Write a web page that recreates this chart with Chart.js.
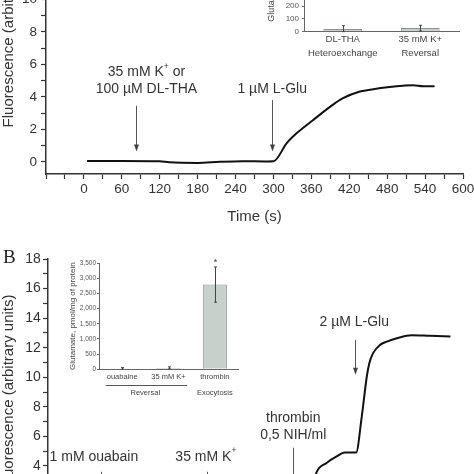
<!DOCTYPE html>
<html lang="en">
<head>
<meta charset="UTF-8">
<title>Glutamate release – fluorescence traces</title>
<script src="https://cdn.jsdelivr.net/npm/chart.js@4"></script>
<style>
html,body{margin:0;padding:0;background:#fff}
#fig{position:relative;width:474px;height:474px;overflow:hidden;background:#fff}
#fig canvas{position:absolute}
#lblB{position:absolute;left:3px;top:247px;font:19px/19px "Liberation Serif","Times New Roman",serif;color:#222}
</style>
</head>
<body>
<div id="fig">
  <canvas id="mainA" width="500" height="376" style="left:0;top:-150px;width:500px;height:376px"></canvas>
  <canvas id="mainB" width="500" height="377" style="left:0;top:200px;width:500px;height:377px"></canvas>
  <canvas id="insetA" width="224" height="212" style="left:250px;top:-150px;width:224px;height:212px"></canvas>
  <canvas id="insetB" width="200" height="170" style="left:50px;top:240px;width:200px;height:170px"></canvas>
  <div id="lblB">B</div>
</div>

<script>
// ---- data ----
// panel A trace (time s, fluorescence a.u.)
const TIME_A  = [5, 60, 120, 135, 180, 215, 250, 290, 300, 321, 337, 363, 390, 410, 437, 458, 484, 505, 521, 537, 555];
const FLUOR_A = [0.05, 0.05, 0.03, -0.03, -0.07, 0.0, 0.04, 0.02, 0.03, 1.15, 1.77, 2.58, 3.4, 3.92, 4.33, 4.47, 4.6, 4.68, 4.72, 4.66, 4.66];
// panel B trace
const TIME_B  = [0, 100, 200, 300, 350, 361, 367, 383, 399, 412, 430, 439, 447, 451, 457, 468, 479, 495, 518, 547, 580];
const FLUOR_B = [1.1, 1.1, 1.2, 1.2, 1.4, 2.6, 3.56, 4.2, 4.64, 4.91, 4.91, 7.34, 10.05, 10.95, 11.63, 12.19, 12.41, 12.64, 12.84, 12.8, 12.75];

// insets: glutamate, pmol/mg of protein
const CATS_A = ['DL-THA', '35 mM K+'];
const GLU_A  = [22, 28];
const ERR_A  = [25, 22];
const GROUPS_A = [{label:'Heteroexchange', from:0, to:0}, {label:'Reversal', from:1, to:1}];

const CATS_B = ['ouabaine', '35 mM K+', 'thrombin'];
const GLU_B  = [30, 45, 2790];
const ERR_B  = [25, 35, 580];
const STARS_B = ['', '', '*'];
const GROUPS_B = [{label:'Reversal', from:0, to:1}, {label:'Exocytosis', from:2, to:2}];

// additions marked on the traces: text lines at (t, value), arrow at arrowT from -> to
const NOTES_A = [
  {t:99,  lines:[['35 mM K^+ or', 5.5], ['100 µM DL-THA', 4.47]], arrowT:82,  from:3.45, to:0.63},
  {t:298, lines:[['1 µM L-Glu', 4.47]], arrowT:298, from:3.8, to:0.63}
];
const NOTES_B = [
  {t:13,  lines:[['1 mM ouabain', 4.62]], arrowT:25, from:3.6, to:1.5},
  {t:191, lines:[['35 mM K^+', 4.62]], arrowT:193, from:3.6, to:1.5},
  {t:330, lines:[['thrombin', 7.26], ['0,5 NIH/ml', 6.11]], arrowT:330, from:5.23, to:1.5},
  {t:427, lines:[['2 µM L-Glu', 13.76]], arrowT:428, from:12.53, to:10.16}
];

const FONT = '"Liberation Sans", Arial, sans-serif';
const AX = '#333';

function drawRich(ctx, text, cx, cy, size){
  const parts = text.split(/(\^.)/).filter(Boolean)
    .map(p => p[0]==='^' ? {t:p.slice(1), sup:true} : {t:p, sup:false});
  const fontOf = p => `${p.sup ? size*0.6 : size}px ${FONT}`;
  let w = 0;
  parts.forEach(p => { ctx.font = fontOf(p); p.w = ctx.measureText(p.t).width; w += p.w; });
  let x = cx - w/2;
  ctx.textAlign = 'left'; ctx.textBaseline = 'middle';
  parts.forEach(p => { ctx.font = fontOf(p); ctx.fillText(p.t, x, p.sup ? cy - size*0.4 : cy); x += p.w; });
}

const notePlugin = {
  id:'notes',
  afterDatasetsDraw(chart, args, opts){
    const {ctx, scales:{x, y}} = chart;
    ctx.save();
    opts.items.forEach(n => {
      ctx.fillStyle = '#333';
      n.lines.forEach(([txt, v]) => drawRich(ctx, txt, x.getPixelForValue(n.t), y.getPixelForValue(v), opts.size));
      const ax = Math.round(x.getPixelForValue(n.arrowT)) + 0.5;
      const y0 = y.getPixelForValue(n.from), y1 = y.getPixelForValue(n.to);
      ctx.strokeStyle = '#555'; ctx.lineWidth = 1;
      ctx.beginPath(); ctx.moveTo(ax, y0); ctx.lineTo(ax, y1 - 5); ctx.stroke();
      ctx.fillStyle = '#444';
      ctx.beginPath(); ctx.moveTo(ax - 2.5, y1 - 7); ctx.lineTo(ax + 2.5, y1 - 7); ctx.lineTo(ax, y1); ctx.closePath(); ctx.fill();
    });
    ctx.restore();
  }
};

const barExtras = {
  id:'extras',
  afterDatasetsDraw(chart, args, opts){
    const {ctx, scales:{x, y}, chartArea} = chart;
    const meta = chart.getDatasetMeta(0);
    const vals = chart.data.datasets[0].data;
    ctx.save();
    ctx.strokeStyle = '#444'; ctx.lineWidth = 1;
    meta.data.forEach((bar, i) => {
      const bx = Math.round(bar.x) + 0.5;
      const top = y.getPixelForValue(vals[i] + opts.err[i]);
      const bot = y.getPixelForValue(Math.max(vals[i] - opts.err[i], 0));
      ctx.beginPath();
      ctx.moveTo(bx, top); ctx.lineTo(bx, bot);
      ctx.moveTo(bx - 1.5, top); ctx.lineTo(bx + 1.5, top);
      ctx.moveTo(bx - 1.5, bot); ctx.lineTo(bx + 1.5, bot);
      ctx.stroke();
      if (opts.stars && opts.stars[i]) {
        ctx.fillStyle = '#333'; ctx.font = `9px ${FONT}`;
        ctx.textAlign = 'center'; ctx.textBaseline = 'alphabetic';
        ctx.fillText(opts.stars[i], bx, top - 1.5);
      }
    });
    // group captions under the category labels
    const cw = x.getPixelForValue(1) - x.getPixelForValue(0);
    ctx.fillStyle = '#444'; ctx.font = `${opts.size}px ${FONT}`;
    ctx.textAlign = 'center'; ctx.textBaseline = 'middle';
    opts.groups.forEach(g => {
      const x0 = x.getPixelForValue(g.from), x1 = x.getPixelForValue(g.to);
      ctx.fillText(g.label, (x0 + x1)/2, chartArea.bottom + opts.labelOffset);
      if (g.to > g.from) {
        const ly = Math.round(chartArea.bottom + opts.lineOffset) + 0.5;
        ctx.strokeStyle = '#555';
        ctx.beginPath(); ctx.moveTo(x0 - 0.35*cw, ly); ctx.lineTo(x1 + 0.4*cw, ly); ctx.stroke();
      }
    });
    ctx.restore();
  }
};

function traceChart(id, times, vals, o){
  return new Chart(document.getElementById(id), {
    type:'line',
    data:{datasets:[{
      data: times.map((t, i) => ({x:t, y:vals[i]})),
      borderColor:'#111', borderWidth:2, pointRadius:0,
      tension:0.3, cubicInterpolationMode:'monotone'
    }]},
    options:{
      responsive:false, animation:false, events:[],
      layout:{padding:{top:o.padTop, right:37, bottom:0, left:0}},
      plugins:{legend:{display:false}, tooltip:{enabled:false}, notes:{items:o.notes, size:o.noteSize}},
      scales:{
        x:{
          type:'linear', min:-60, max:600,
          border:{display:true, color:AX, width:1.5},
          grid:{drawOnChartArea:false, drawTicks:true, tickLength:5, color:AX, tickWidth:1.2},
          ticks:{stepSize:30, autoSkip:false, maxRotation:0, padding:2, color:'#333',
                 font:{family:FONT, size:13.5}, callback:v => (v >= 0 && v % 60 === 0) ? v : ''},
          title:{display:true, text:'Time (s)', color:'#333', font:{family:FONT, size:15}, padding:0},
          afterFit:s => { s.height = 52; }
        },
        y:{
          min:o.yMin, max:o.yMax,
          border:{display:true, color:AX, width:1.5},
          grid:{drawOnChartArea:false, drawTicks:true, tickLength:5, color:AX, tickWidth:1.2},
          ticks:{stepSize:1, includeBounds:false, autoSkip:false, padding:o.yPad, color:'#333',
                 font:{family:FONT, size:o.tickSize}, callback:v => v % 2 === 0 ? v : ''},
          title:{display:true, text:'Fluorescence (arbitrary units)', color:'#333', font:{family:FONT, size:15}, padding:0},
          afterFit:s => { s.width = o.yWidth; }
        }
      }
    },
    plugins:[notePlugin]
  });
}

function insetChart(id, cats, vals, o){
  return new Chart(document.getElementById(id), {
    type:'bar',
    data:{labels:cats, datasets:[{
      data:vals, backgroundColor:'#c8d0cc', borderColor:'#8c908e', borderWidth:1,
      categoryPercentage:1, barPercentage:o.barPct
    }]},
    options:{
      responsive:false, animation:false, events:[],
      layout:{padding:{top:o.padTop, right:o.padRight, bottom:0, left:0}},
      plugins:{legend:{display:false}, tooltip:{enabled:false},
        extras:{err:o.err, stars:o.stars, groups:o.groups, size:o.catSize, labelOffset:o.groupOffset, lineOffset:o.lineOffset}},
      scales:{
        x:{
          border:{display:true, color:'#666', width:1},
          grid:{display:false, drawTicks:false},
          ticks:{autoSkip:false, maxRotation:0, padding:o.catPad, color:'#444', font:{family:FONT, size:o.catSize}},
          afterFit:s => { s.height = o.xHeight; }
        },
        y:{
          min:0, max:o.yMax,
          border:{display:true, color:'#666', width:1},
          grid:{drawOnChartArea:false, drawTicks:true, tickLength:2, color:'#666'},
          ticks:{stepSize:o.step, autoSkip:false, padding:o.yPad, color:'#555', font:{family:FONT, size:o.tickSize}},
          title:{display:true, text:'Glutamate, pmol/mg of protein', color:'#444',
                 font:{family:FONT, size:o.titleSize}, padding:{top:o.titlePad, bottom:0}},
          afterFit:s => { s.width = o.yWidth; }
        }
      }
    },
    plugins:[barExtras]
  });
}

traceChart('mainA', TIME_A, FLUOR_A, {padTop:35.7, yMin:-0.75, yMax:17, yWidth:46, yPad:4, tickSize:13.5, notes:NOTES_A, noteSize:14});
traceChart('mainB', TIME_B, FLUOR_B, {padTop:59, yMin:0, yMax:18, yWidth:48, yPad:2.3, tickSize:14, notes:NOTES_B, noteSize:14});

insetChart('insetA', CATS_A, GLU_A, {
  padTop:40.7, padRight:15, xHeight:30.3, yWidth:54, yMax:1100, step:100, yPad:3,
  tickSize:8, titleSize:9, titlePad:16, catSize:9.5, catPad:1.6, barPct:0.5,
  err:ERR_A, stars:null, groups:GROUPS_A, groupOffset:21.3, lineOffset:15
});
insetChart('insetB', CATS_B, GLU_B, {
  padTop:23, padRight:12, xHeight:40.7, yWidth:49, yMax:3500, step:500, yPad:1,
  tickSize:6.5, titleSize:8, titlePad:18, catSize:7.5, catPad:2.9, barPct:0.52,
  err:ERR_B, stars:STARS_B, groups:GROUPS_B, groupOffset:23.5, lineOffset:16
});
</script>
</body>
</html>
